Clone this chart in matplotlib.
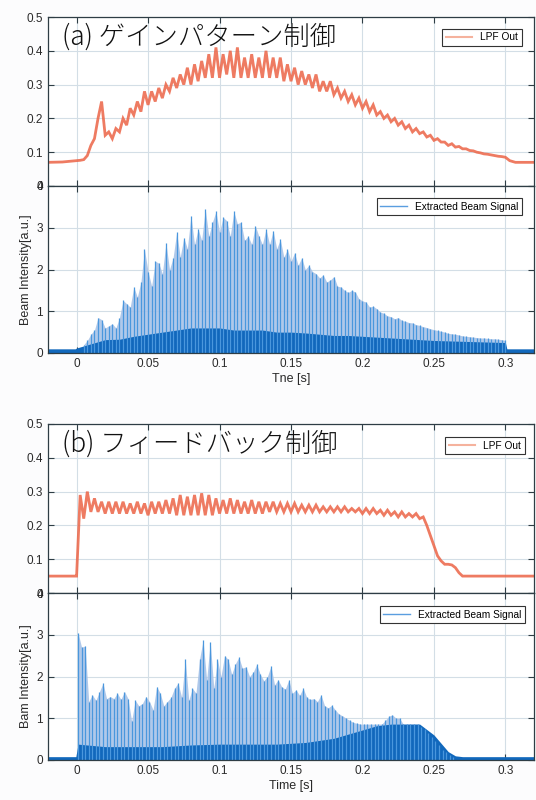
import matplotlib.pyplot as plt
import numpy as np
from matplotlib.ticker import FormatStrFormatter

# ---- (a) gain pattern control ----
lpf_a = [0.075, 0.076, 0.078, 0.09, 0.12, 0.14, 0.20, 0.25, 0.15, 0.16,
         0.14, 0.17, 0.16, 0.20, 0.18, 0.23, 0.21, 0.25, 0.22, 0.28,
         0.24, 0.28, 0.25, 0.29, 0.26, 0.30, 0.28, 0.32, 0.29, 0.33,
         0.30, 0.35, 0.30, 0.36, 0.31, 0.37, 0.32, 0.39, 0.32, 0.41,
         0.32, 0.39, 0.33, 0.40, 0.32, 0.41, 0.32, 0.38, 0.32, 0.39,
         0.32, 0.38, 0.32, 0.40, 0.32, 0.38, 0.32, 0.38, 0.31, 0.36,
         0.31, 0.35, 0.30, 0.34, 0.30, 0.33, 0.29, 0.33, 0.28, 0.31,
         0.28, 0.31, 0.27, 0.29, 0.26, 0.28, 0.25, 0.27, 0.24, 0.26,
         0.23, 0.25, 0.22, 0.24, 0.21, 0.22, 0.20, 0.21, 0.19, 0.20,
         0.18, 0.19, 0.17, 0.18, 0.16, 0.17, 0.155, 0.16, 0.145, 0.15,
         0.135, 0.14, 0.13, 0.13, 0.12, 0.125, 0.115, 0.117, 0.11, 0.11,
         0.105, 0.104, 0.10, 0.098, 0.095, 0.094, 0.092, 0.09, 0.088, 0.087,
         0.085]
lpf_a_head_t = [-0.02, -0.01]
lpf_a_head = [0.07, 0.071]
lpf_a_tail_t = [0.303, 0.307, 0.32]
lpf_a_tail = [0.075, 0.07, 0.07]

# beam spike peaks every 2.5 ms from t = 5 ms
beam_a = [0.2, 0.3, 0.45, 0.55, 0.85, 0.8, 0.6, 0.65, 0.7, 0.6,
          0.85, 1.26, 1.18, 1.1, 1.58, 1.34, 1.7, 2.48, 1.95, 1.6,
          2.2, 2.15, 1.9, 2.64, 2.0, 2.28, 2.89, 2.3, 2.76, 2.5,
          3.29, 2.6, 2.97, 2.7, 3.45, 2.8, 3.13, 3.39, 2.9, 3.25,
          3.17, 2.8, 3.39, 3.1, 3.13, 2.7, 2.8, 2.6, 3.05, 2.8,
          2.6, 2.97, 2.6, 2.93, 2.5, 2.72, 2.3, 2.48, 2.2, 2.4,
          2.1, 2.28, 2.0, 2.1, 1.95, 1.9, 1.8, 1.87, 1.7, 1.75,
          1.83, 1.6, 1.58, 1.5, 1.45, 1.5, 1.46, 1.3, 1.25, 1.22,
          1.1, 1.12, 1.06, 0.98, 0.95, 0.89, 0.87, 0.82, 0.85, 0.78,
          0.76, 0.73, 0.72, 0.68, 0.66, 0.63, 0.61, 0.58, 0.56, 0.54,
          0.52, 0.5, 0.47, 0.46, 0.45, 0.43, 0.41, 0.4, 0.39, 0.38,
          0.37, 0.36, 0.36, 0.35, 0.34, 0.34, 0.33, 0.32, 0.3]
# dense (dark) part of the beam signal
dense_a_t = [-0.02, -0.001, 0.0, 0.01, 0.02, 0.03, 0.04, 0.05, 0.06, 0.07,
             0.08, 0.09, 0.10, 0.11, 0.12, 0.13, 0.14, 0.15, 0.16, 0.17,
             0.18, 0.19, 0.20, 0.21, 0.22, 0.23, 0.24, 0.25, 0.26, 0.27,
             0.28, 0.29, 0.30, 0.301, 0.32]
dense_a = [0.1, 0.1, 0.12, 0.22, 0.32, 0.33, 0.4, 0.45, 0.5, 0.55,
           0.6, 0.6, 0.6, 0.55, 0.55, 0.55, 0.5, 0.5, 0.48, 0.45,
           0.42, 0.42, 0.4, 0.38, 0.36, 0.34, 0.32, 0.3, 0.29, 0.28,
           0.27, 0.26, 0.25, 0.1, 0.1]

# ---- (b) feedback control ----
lpf_b = [0.05, 0.29, 0.22, 0.30, 0.24, 0.28, 0.24, 0.27, 0.235, 0.27,
         0.235, 0.27, 0.235, 0.27, 0.235, 0.265, 0.235, 0.27, 0.235, 0.265,
         0.23, 0.27, 0.235, 0.27, 0.235, 0.275, 0.235, 0.28, 0.23, 0.29,
         0.23, 0.285, 0.23, 0.29, 0.23, 0.295, 0.23, 0.29, 0.23, 0.28,
         0.235, 0.275, 0.235, 0.28, 0.235, 0.275, 0.235, 0.27, 0.235, 0.275,
         0.235, 0.27, 0.235, 0.27, 0.24, 0.27, 0.24, 0.265, 0.24, 0.265,
         0.24, 0.265, 0.24, 0.26, 0.24, 0.26, 0.24, 0.26, 0.24, 0.255,
         0.24, 0.255, 0.24, 0.255, 0.24, 0.255, 0.24, 0.25, 0.24, 0.25,
         0.235, 0.25, 0.235, 0.25, 0.235, 0.245, 0.23, 0.245, 0.23, 0.24,
         0.225, 0.24, 0.225, 0.235, 0.225, 0.235, 0.22, 0.225, 0.20, 0.17,
         0.14, 0.11, 0.095, 0.085, 0.085, 0.083, 0.075, 0.06, 0.05, 0.05]
lpf_b_head_t = [-0.02, -0.0005]
lpf_b_head = [0.05, 0.05]
lpf_b_tail_t = [0.32]
lpf_b_tail = [0.05]

# beam spike peaks every 2.5 ms from t = 1 ms
beam_b = [3.05, 2.7, 2.73, 1.4, 1.56, 1.43, 1.64, 1.84, 1.47, 1.52,
          1.47, 1.6, 1.45, 1.64, 1.47, 0.93, 1.43, 1.3, 1.35, 1.52,
          1.4, 1.2, 1.76, 1.6, 1.3, 1.4, 1.5, 1.72, 1.84, 1.5,
          2.41, 1.43, 1.72, 1.6, 2.41, 2.87, 1.92, 2.83, 1.72, 2.41,
          2.0, 2.5, 2.41, 2.05, 2.3, 2.46, 2.2, 2.23, 2.0, 2.1,
          2.29, 2.05, 1.9, 2.0, 2.25, 1.8, 1.92, 1.75, 1.7, 1.92,
          1.6, 1.68, 1.55, 1.72, 1.5, 1.45, 1.47, 1.4, 1.56, 1.3,
          1.25, 1.31, 1.2, 1.1, 1.06, 1.0, 0.95, 0.9, 0.88, 0.86,
          0.86, 0.86, 0.86, 0.86, 0.86, 0.86, 0.95, 1.05, 1.08, 1.0,
          1.0, 0.86, 0.86, 0.86, 0.86, 0.86, 0.8, 0.75, 0.65, 0.55,
          0.45, 0.35, 0.25, 0.18, 0.12, 0.08]
dense_b_t = [-0.02, -0.0005, 0.001, 0.02, 0.04, 0.06, 0.08, 0.10, 0.12, 0.14,
             0.16, 0.17, 0.18, 0.19, 0.20, 0.21, 0.22, 0.23, 0.24, 0.25,
             0.255, 0.26, 0.265, 0.27, 0.32]
dense_b = [0.08, 0.08, 0.38, 0.32, 0.32, 0.32, 0.36, 0.38, 0.38, 0.38,
           0.42, 0.47, 0.52, 0.62, 0.72, 0.82, 0.86, 0.86, 0.86, 0.6,
           0.4, 0.2, 0.1, 0.08, 0.08]

xticks = [0, 0.05, 0.1, 0.15, 0.2, 0.25, 0.3]

LPF_COLOR = "#EC6446"
SPIKE_COLOR = "#4A97DD"
PALE_COLOR = "#A8C3E8"
DARK_COLOR = "#1168BC"
SPINE = "#2E3D45"
GRID = "#D3DEE6"

plt.rcParams["font.family"] = ["Liberation Sans", "DejaVu Sans"]

fig = plt.figure(figsize=(5.36, 8), dpi=100)
fig.patch.set_facecolor("#FCFCFD")

W, H = 536, 800


def make_ax(top, bottom):
    return fig.add_axes([48 / W, 1 - bottom / H, 486 / W, (bottom - top) / H])


def style(ax, ylim, yticks, xlabels):
    ax.set_xlim(-0.02, 0.32)
    ax.set_ylim(*ylim)
    ax.set_xticks(xticks)
    ax.set_yticks(yticks)
    ax.xaxis.set_major_formatter(FormatStrFormatter("%g"))
    ax.yaxis.set_major_formatter(FormatStrFormatter("%g"))
    ax.grid(True, color=GRID, lw=0.8)
    ax.set_axisbelow(True)
    ax.tick_params(direction="in", top=True, right=True, length=4,
                   color=SPINE, labelsize=8.5, labelcolor="#2A2A2A",
                   labelbottom=xlabels)
    for s in ax.spines.values():
        s.set_color(SPINE)
        s.set_linewidth(0.9)


def add_legend(ax, anchor):
    leg = ax.legend(loc="upper right", bbox_to_anchor=anchor,
                    borderaxespad=0, fontsize=7.3, fancybox=False,
                    handlelength=2.6, borderpad=0.35, framealpha=1)
    leg.get_frame().set_edgecolor("#333333")
    leg.get_frame().set_linewidth(0.8)
    return leg


def lpf_panel(ax, head_t, head, vals, tail_t, tail, title, leg_anchor):
    t = np.concatenate([head_t, np.arange(len(vals)) * 0.0025, tail_t])
    v = np.concatenate([head, vals, tail])
    ax.plot(t, v, color=LPF_COLOR, lw=2.0, alpha=0.85, label="LPF Out",
            solid_joinstyle="miter")
    style(ax, (0, 0.5), [0, 0.1, 0.2, 0.3, 0.4, 0.5], False)
    ax.text(0.029, 0.885, title, transform=ax.transAxes, fontsize=19,
            va="center", ha="left", color="#111111", fontweight="light",
            family=["Noto Sans CJK JP", "DejaVu Sans"])
    leg = add_legend(ax, leg_anchor)
    leg.get_lines()[0].set_color("#F4A58C")
    leg.get_lines()[0].set_linewidth(1.5)


def beam_panel(ax, t0, vals, dt, dv, xlabel, ylabel, leg_anchor):
    t = t0 + np.arange(len(vals)) * 0.0025
    ax.fill_between(t, 0, vals, color=PALE_COLOR, lw=0, alpha=0.9)
    ax.vlines(t, 0, vals, color=SPIKE_COLOR, lw=0.9)
    ax.fill_between(dt, 0, dv, color=DARK_COLOR, lw=0)
    ax.plot([], [], color="#5A9EE0", lw=1, label="Extracted Beam Signal")
    style(ax, (0, 4), [0, 1, 2, 3, 4], True)
    ax.set_xlabel(xlabel, fontsize=9, color="#2A2A2A", labelpad=2)
    ax.set_ylabel(ylabel, fontsize=9, color="#2A2A2A", labelpad=3)
    add_legend(ax, leg_anchor)


ax1 = make_ax(17, 186)
ax2 = make_ax(186, 353)
ax3 = make_ax(424, 593)
ax4 = make_ax(593, 760)

lpf_panel(ax1, lpf_a_head_t, lpf_a_head, lpf_a, lpf_a_tail_t, lpf_a_tail,
          "(a) ゲインパターン制御", (0.975, 0.93))
beam_panel(ax2, 0.005, beam_a, dense_a_t, dense_a, "Tne [s]",
           "Beam Intensity[a.u.]", (0.975, 0.928))
lpf_panel(ax3, lpf_b_head_t, lpf_b_head, lpf_b, lpf_b_tail_t, lpf_b_tail,
          "(b) フィードバック制御", (0.981, 0.923))
beam_panel(ax4, 0.001, beam_b, dense_b_t, dense_b, "Time [s]",
           "Bam Intensity[a.u.]", (0.981, 0.922))

fig.savefig("out.png", dpi=100, facecolor=fig.get_facecolor())
